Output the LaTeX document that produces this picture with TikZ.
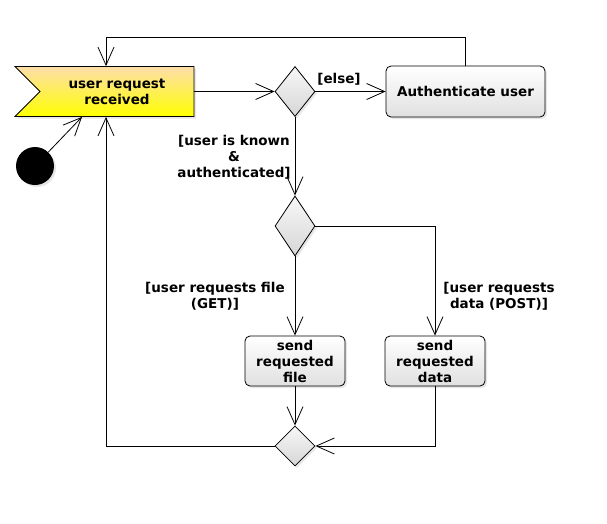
\documentclass[tikz,border=0pt]{standalone}
\usepackage{fontspec}
\setmainfont{DejaVu Sans}
\usetikzlibrary{arrows.meta,positioning,calc,shapes.geometric,shapes.symbols,shadows}

\tikzset{
  flow/.style={-{Straight Barb[length=18pt,width=16pt]}},
  actbox/.style={draw, rounded corners=5pt, top color=white, bottom color=black!12,
    drop shadow={opacity=0.2, shadow xshift=2pt, shadow yshift=-2pt}, align=center, inner sep=0pt},
  decide/.style={draw, diamond, inner sep=0pt, minimum width=40pt, top color=black!3, bottom color=black!16,
    drop shadow={opacity=0.2, shadow xshift=2pt, shadow yshift=-2pt}},
  guard/.style={align=center, inner sep=0pt}
}

\begin{document}
\begin{tikzpicture}[x=1pt, y=-1pt, line width=0.8pt,
    every node/.style={font=\fontsize{13.5}{16}\selectfont\bfseries}]
  \useasboundingbox (0,0) rectangle (607,523);

  % event and start
  \node[draw, signal, signal from=west, signal to=nowhere, minimum width=179pt, minimum height=50pt,
    inner sep=0pt, align=center, top color={rgb,255:red,253;green,222;blue,170}, bottom color=yellow,
    drop shadow={opacity=0.2, shadow xshift=2pt, shadow yshift=-2pt}] (evt) at (117,91.5) {user request\\received};
  \node[circle, fill=black, minimum size=38pt, inner sep=0pt,
    drop shadow={opacity=0.2, shadow xshift=2pt, shadow yshift=-2pt}] (start) at (35,166) {};
  \coordinate (evtmid) at (106,0);

  % decisions and actions
  \node[decide, minimum height=50pt] (dec1) at (295,91.5) {};
  \node[actbox, minimum width=159pt, minimum height=51pt] (auth) at (465.5,91.5) {Authenticate user};
  \node[decide, minimum height=60pt] (dec2) at (295,226) {};
  \node[actbox, minimum width=100pt, minimum height=50pt] (sendfile) at (295,361) {send\\requested\\file};
  \node[actbox, minimum width=100pt, minimum height=50pt] (senddata) at (435,361) {send\\requested\\data};
  \node[decide, minimum height=40pt] (merge) at (295,446) {};

  % guards
  \node[guard] (lelse) at (339,79) {[else]};
  \node[guard] (lknown) at (234,157) {[user is known\\\&\\authenticated]};
  \node[guard] (lget) at (215,296) {[user requests file\\(GET)]};
  \node[guard] (lpost) at (499,296) {[user requests\\data (POST)]};

  % connectors
  \coordinate (looptop) at (0,37);
  \draw[flow] (start) -- ($(evt.south)+(-35,0)$);
  \draw[flow] (evt.east) -- (dec1.west);
  \draw[flow] (dec1.east) -- (auth.west);
  \draw[flow] (auth.north) -- (auth.north |- looptop) -| (evt.north -| evtmid);
  \draw[flow] (dec1.south) -- (dec2.north);
  \draw[flow] (dec2.south) -- (sendfile.north);
  \draw[flow] (dec2.east) -| (senddata.north);
  \draw[flow] (sendfile.south) -- (merge.north);
  \draw[flow] (senddata.south) |- (merge.east);
  \draw[flow] (merge.west) -| (evt.south -| evtmid);
\end{tikzpicture}
\end{document}
